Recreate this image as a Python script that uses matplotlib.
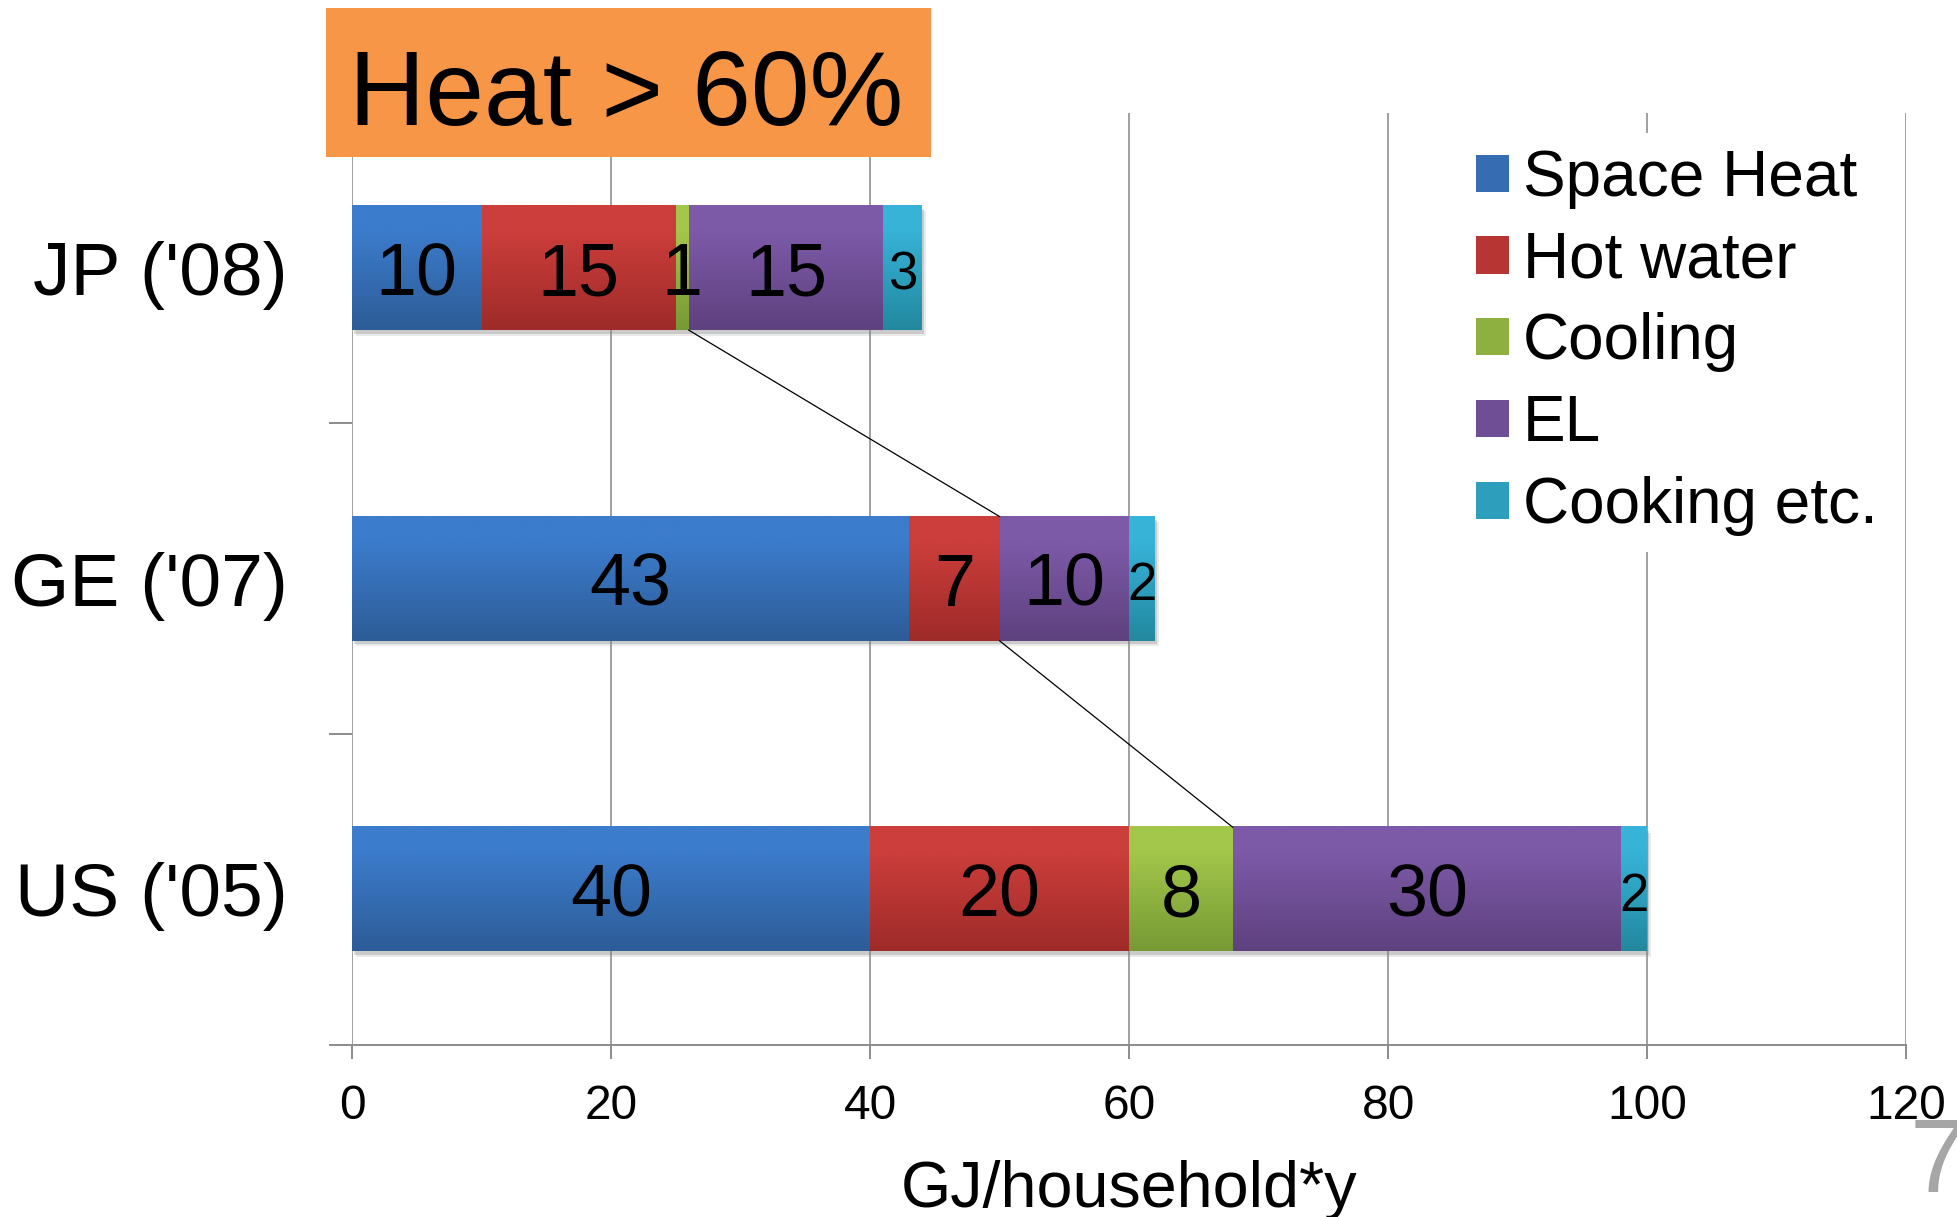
import numpy as np
import matplotlib
matplotlib.use("Agg")
import matplotlib.pyplot as plt
import matplotlib.patheffects as pe
from matplotlib.colors import LinearSegmentedColormap
from matplotlib.patches import Rectangle

plt.rcParams['font.family'] = ['Liberation Sans', 'DejaVu Sans']

# household energy use by end use, GJ per household and year
countries = ["JP ('08)", "GE ('07)", "US ('05)"]
uses = ["Space Heat", "Hot water", "Cooling", "EL", "Cooking etc."]
space_heat = [10, 43, 40]
hot_water = [15, 7, 20]
cooling = [1, 0, 8]
el = [15, 10, 30]
cooking = [3, 2, 2]
xticks = [0, 20, 40, 60, 80, 100, 120]

series = [space_heat, hot_water, cooling, el, cooking]

# light (top) and dark (bottom) shade of each segment
top_colors = ["#3c7ccc", "#cc3e3b", "#a2c74a", "#7d5aa8", "#37b3d8"]
bottom_colors = ["#2d5c97", "#9e2b29", "#779935", "#5e417f", "#22889f"]
mid_colors = ["#356cb2", "#b73532", "#8db040", "#6e4e94", "#2d9fbd"]

fig = plt.figure(figsize=(19.57, 12.17), dpi=100)
ax = fig.add_axes([0.1799, 0.1416, 0.7941, 0.7658])

ypos = np.arange(len(countries))[::-1]
bar_h = 0.4

left = np.zeros(len(countries))
containers = []
for name, vals, c in zip(uses, series, mid_colors):
    bars = ax.barh(ypos, vals, left=left, height=bar_h, color=c, label=name, zorder=3)
    containers.append(bars)
    left = left + np.array(vals)
totals = left

# soft drop shadow under each whole bar
for y, tot in zip(ypos, totals):
    sh = Rectangle((0, y - bar_h / 2), tot, bar_h, facecolor='white', edgecolor='none', zorder=2.9)
    sh.set_path_effects([pe.SimplePatchShadow(offset=(3, -4), shadow_rgbFace='#909090', alpha=0.18),
                         pe.SimplePatchShadow(offset=(1.5, -2.5), shadow_rgbFace='#808080', alpha=0.3),
                         pe.Normal()])
    ax.add_patch(sh)

# vertical gradient fill on every segment
grad = np.linspace(0, 1, 256).reshape(-1, 1)
for bars, c0, c1 in zip(containers, bottom_colors, top_colors):
    cmap = LinearSegmentedColormap.from_list("shade", [(0, c0), (0.8, c1), (1, c1)])
    for rect in bars:
        w = rect.get_width()
        if w == 0:
            continue
        x0, y0 = rect.get_x(), rect.get_y()
        ax.imshow(grad, cmap=cmap, origin='lower', aspect='auto', interpolation='bilinear',
                  extent=[x0, x0 + w, y0, y0 + rect.get_height()], zorder=4)

for bars, vals, name in zip(containers, series, uses):
    size = 38 if name == "Cooking etc." else 53
    labels = [str(v) if v else "" for v in vals]
    anns = ax.bar_label(bars, labels=labels, label_type='center', fontsize=size, zorder=6)
    for a in anns:
        a.xyann = (0, -5.5)

# connect the end of the heat share (space heat + hot water + cooling)
heat = np.array(space_heat) + np.array(hot_water) + np.array(cooling)
for i in range(len(countries) - 1):
    ax.plot([heat[i], heat[i + 1]], [ypos[i] - bar_h / 2, ypos[i + 1] + bar_h / 2],
            color='black', lw=0.9, zorder=5)

ax.set_xlim(0, 120)
ax.set_ylim(-0.5, 2.5)
ax.set_xticks(xticks)
ax.set_yticks(ypos, countries)
ax.set_yticks([-0.5, 0.5, 1.5], minor=True)
ax.tick_params(axis='y', which='major', length=0, pad=46.5, labelsize=54)
ax.tick_params(axis='y', which='minor', length=16.5, width=1.4, color='#8c8c8c')
ax.tick_params(axis='x', length=10, width=1.4, color='#8c8c8c', labelsize=34.5, pad=18.5)
ax.grid(axis='x', color='#a0a0a0', lw=1.4)
ax.set_axisbelow(True)
for s in ['top', 'right', 'left']:
    ax.spines[s].set_visible(False)
ax.spines['bottom'].set_color('#8c8c8c')
ax.spines['bottom'].set_linewidth(1.4)
ax.set_xlabel("GJ/household*y", fontsize=46.5, labelpad=22)

leg = ax.legend(loc='upper left', bbox_to_anchor=(1460 / 1957, 1 - 133 / 1217),
                bbox_transform=fig.transFigure, fontsize=46, frameon=True, framealpha=1,
                edgecolor='none', fancybox=False, handlelength=0.52, handleheight=0.52,
                handletextpad=0.22, labelspacing=0.34, borderpad=0.25, borderaxespad=0)

# title box
fig.add_artist(Rectangle((326 / 1957, 1 - 157 / 1217), 605 / 1957, 149.5 / 1217,
                         transform=fig.transFigure, facecolor='#f79646', edgecolor='none', zorder=1))
fig.text(626 / 1957, 1 - 125 / 1217, "Heat > 60%", fontsize=76, ha='center', va='baseline', zorder=3)

# slide number
fig.text(1910 / 1957, 1 - 1192 / 1217, "7", fontsize=75, color='#a6a6a6', ha='left', va='baseline')

fig.savefig("out.png", dpi=100)
